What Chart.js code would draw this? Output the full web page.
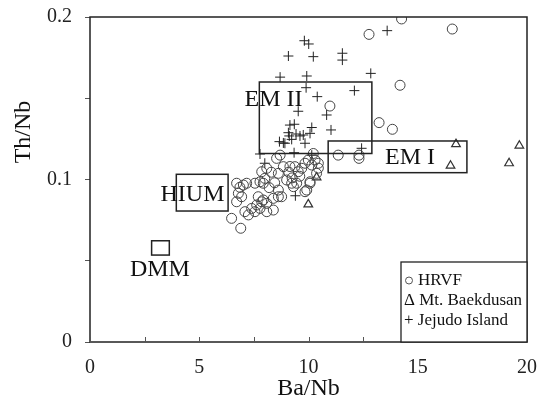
<!DOCTYPE html>
<html>
<head>
<meta charset="utf-8">
<script src="https://cdn.jsdelivr.net/npm/chart.js@4.4.1/dist/chart.umd.min.js"></script>
<style>
  html, body { margin: 0; padding: 0; background: #fff; }
  canvas { display: block; }
</style>
</head>
<body>
<canvas id="chart" width="539" height="405"></canvas>
<script>
// HRVF (circles)
const hrvfX = [6.71, 6.86, 7.02, 6.79, 6.94, 7.17, 6.71, 6.48, 6.9, 7.09, 7.25, 7.4, 7.55, 7.63, 7.78,
               7.86, 7.7, 7.55, 7.78, 7.86, 8.0, 8.09, 8.09, 8.09, 8.54, 8.85, 8.62, 9.0, 9.23, 9.38,
               9.53, 9.69, 9.84, 9.99, 10.15, 10.3, 10.22, 10.07, 9.84, 9.31, 8.62, 8.62, 8.77, 8.39, 7.93,
               7.93, 10.37, 10.45, 11.36, 8.7, 10.45, 8.39, 9.92, 9.46, 10.07, 10.98, 14.26, 12.77, 16.58, 14.19,
               13.23, 13.84, 12.31, 12.31, 9.1, 9.25, 9.6, 9.15, 8.3, 8.2, 8.45];
const hrvfY = [0.0977, 0.0952, 0.0966, 0.0915, 0.0894, 0.0977, 0.0863, 0.0761, 0.070, 0.0802, 0.0782, 0.0822, 0.0802, 0.0843, 0.0822,
               0.0863, 0.0894, 0.0977, 0.0986, 0.1048, 0.1007, 0.0853, 0.0802, 0.1069, 0.113, 0.1079, 0.1038, 0.0997, 0.0977, 0.1079,
               0.1048, 0.1069, 0.110, 0.112, 0.1089, 0.112, 0.116, 0.0977, 0.0925, 0.0956, 0.0935, 0.0894, 0.0894, 0.0812, 0.0977,
               0.0874, 0.1038, 0.110, 0.115, 0.115, 0.107, 0.0884, 0.0935, 0.0977, 0.0986, 0.1452, 0.1988, 0.1893, 0.1926, 0.158,
               0.135, 0.1309, 0.115, 0.113, 0.1045, 0.101, 0.102, 0.108, 0.1045, 0.095, 0.098];

// Mt. Baekdusan (triangles)
const baekX = [16.75, 16.5, 19.65, 19.18, 10.37, 9.99];
const baekY = [0.1218, 0.1085, 0.1208, 0.110, 0.1013, 0.0847];

// Jejudo Island (crosses)
const jejuX = [9.81, 10.01, 9.08, 10.22, 8.70, 9.92, 9.89, 10.4, 9.53, 10.83, 11.55, 11.55, 13.6, 12.85, 12.1,
               11.03, 12.43, 9.15, 9.35, 10.15, 9.08, 9.43, 9.76, 10.07, 9.12, 9.61, 8.67, 8.92, 8.85, 9.23,
               9.84, 9.34, 7.78, 10.15, 8.0, 9.4];
const jejuY = [0.1854, 0.1834, 0.176, 0.1756, 0.163, 0.1637, 0.1565, 0.151, 0.142, 0.1397, 0.1777, 0.1735, 0.1916, 0.1653, 0.1547,
               0.1305, 0.1192, 0.1335, 0.134, 0.132, 0.1288, 0.128, 0.1274, 0.1284, 0.1268, 0.1268, 0.1233, 0.1223, 0.1225, 0.1247,
               0.1223, 0.1165, 0.1157, 0.115, 0.110, 0.090];

const xTickLabels = [0, 5, 10, 15, 20];
const yTickLabels = [0, 0.1, 0.2];

// mantle end-member fields
const regionNames = ['EM II', 'EM I', 'HIUM', 'DMM'];
const regionXMin  = [7.75, 10.9, 3.95, 2.82];
const regionXMax  = [12.9, 17.25, 6.32, 3.63];
const regionYMin  = [0.116, 0.1042, 0.0806, 0.0535];
const regionYMax  = [0.160, 0.1237, 0.1032, 0.0623];

const legendLabels = ['HRVF', 'Mt. Baekdusan', 'Jejudo Island'];

const SERIF = '"Liberation Serif", "Times New Roman", serif';
const INK   = '#222';

const pts = (xs, ys) => xs.map((x, i) => ({ x, y: ys[i] }));

// where each field name sits, in data units
const regionLabelAt = { 'EM II': [8.4, 0.149], 'EM I': [14.65, 0.1135], 'HIUM': [4.69, 0.0905], 'DMM': [3.2, 0.0443] };

// no extra room for overhanging tick labels, the frame is fixed
const noOverhang = s => { s.paddingLeft = s.paddingRight = s.paddingTop = s.paddingBottom = 0; };

const decor = {
    id: 'decor',
    afterDatasetsDraw(chart) {
        const { ctx, chartArea: a, scales: { x, y } } = chart;
        ctx.save();

        // frame
        ctx.strokeStyle = INK;
        ctx.lineWidth = 1.5;
        ctx.strokeRect(a.left, a.top, a.right - a.left, a.bottom - a.top);

        // inward x ticks
        ctx.lineWidth = 1;
        ctx.strokeStyle = '#555';
        for (const t of x.ticks) {
            const px = Math.round(x.getPixelForValue(t.value)) + 0.5;
            ctx.beginPath(); ctx.moveTo(px, a.bottom); ctx.lineTo(px, a.bottom - 5); ctx.stroke();
        }

        // field boxes
        ctx.strokeStyle = INK;
        ctx.lineWidth = 1.5;
        regionNames.forEach((n, i) => {
            const l = x.getPixelForValue(regionXMin[i]), r = x.getPixelForValue(regionXMax[i]);
            const t = y.getPixelForValue(regionYMax[i]), b = y.getPixelForValue(regionYMin[i]);
            ctx.strokeRect(l, t, r - l, b - t);
        });
        ctx.fillStyle = '#111';
        ctx.font = '24px ' + SERIF;
        ctx.textAlign = 'center';
        ctx.textBaseline = 'middle';
        regionNames.forEach(n => {
            const [lx, ly] = regionLabelAt[n];
            ctx.fillText(n, x.getPixelForValue(lx), y.getPixelForValue(ly));
        });

        // legend
        const lx = 401, ly = 262;
        ctx.fillStyle = '#fff';
        ctx.fillRect(lx, ly, a.right - lx, a.bottom - ly);
        ctx.strokeStyle = INK;
        ctx.lineWidth = 1.3;
        ctx.strokeRect(lx, ly, a.right - lx, a.bottom - ly);
        ctx.font = '17px ' + SERIF;
        ctx.textAlign = 'left';
        ctx.textBaseline = 'alphabetic';
        ctx.fillStyle = '#111';
        ctx.strokeStyle = '#555';
        ctx.lineWidth = 1;
        ctx.beginPath(); ctx.arc(409, 280.5, 3.5, 0, Math.PI * 2); ctx.stroke();
        ctx.fillText(legendLabels[0], 418, 285);
        ctx.fillText('\u0394 ' + legendLabels[1], 404, 305);
        ctx.fillText('+ ' + legendLabels[2], 404, 325);

        // axis titles
        ctx.font = '24px ' + SERIF;
        ctx.textAlign = 'center';
        ctx.textBaseline = 'middle';
        ctx.fillText('Ba/Nb', (a.left + a.right) / 2, 389);
        ctx.translate(24, 132);
        ctx.rotate(-Math.PI / 2);
        ctx.fillText('Th/Nb', 0, 0);
        ctx.restore();
    }
};

new Chart(document.getElementById('chart'), {
    type: 'scatter',
    data: {
        datasets: [
            { label: legendLabels[0], data: pts(hrvfX, hrvfY), pointStyle: 'circle', pointRadius: 5,
              borderColor: '#444', backgroundColor: 'rgba(0,0,0,0)', borderWidth: 1 },
            { label: legendLabels[1], data: pts(baekX, baekY), pointStyle: 'triangle', pointRadius: 5,
              borderColor: '#333', backgroundColor: 'rgba(0,0,0,0)', borderWidth: 1.2 },
            { label: legendLabels[2], data: pts(jejuX, jejuY), pointStyle: 'cross', pointRadius: 5,
              borderColor: '#222', borderWidth: 1 },
        ],
    },
    options: {
        responsive: false,
        animation: false,
        devicePixelRatio: 1,
        layout: { padding: { top: 17, right: 12, left: 0, bottom: 0 } },
        plugins: { legend: { display: false }, tooltip: { enabled: false } },
        scales: {
            x: {
                type: 'linear', min: 0, max: 20,
                border: { display: false },
                grid: { display: false },
                ticks: {
                    stepSize: 2.5, autoSkip: false, maxRotation: 0, padding: 6,
                    color: INK, font: { family: SERIF, size: 20 },
                    callback: v => xTickLabels.includes(v) ? String(v) : '',
                },
                afterFit: s => { s.height = 63; noOverhang(s); },
            },
            y: {
                type: 'linear', min: 0, max: 0.2,
                border: { display: false },
                grid: { drawOnChartArea: false, drawTicks: true, tickLength: 5, color: '#555' },
                ticks: {
                    stepSize: 0.05, autoSkip: false, padding: 13,
                    color: INK, font: { family: SERIF, size: 20 },
                    callback: v => {
                        const hit = yTickLabels.find(t => Math.abs(t - v) < 1e-9);
                        return hit === undefined ? '' : String(hit);
                    },
                },
                afterFit: s => { s.width = 90; noOverhang(s); },
            },
        },
    },
    plugins: [decor],
});
</script>
</body>
</html>
